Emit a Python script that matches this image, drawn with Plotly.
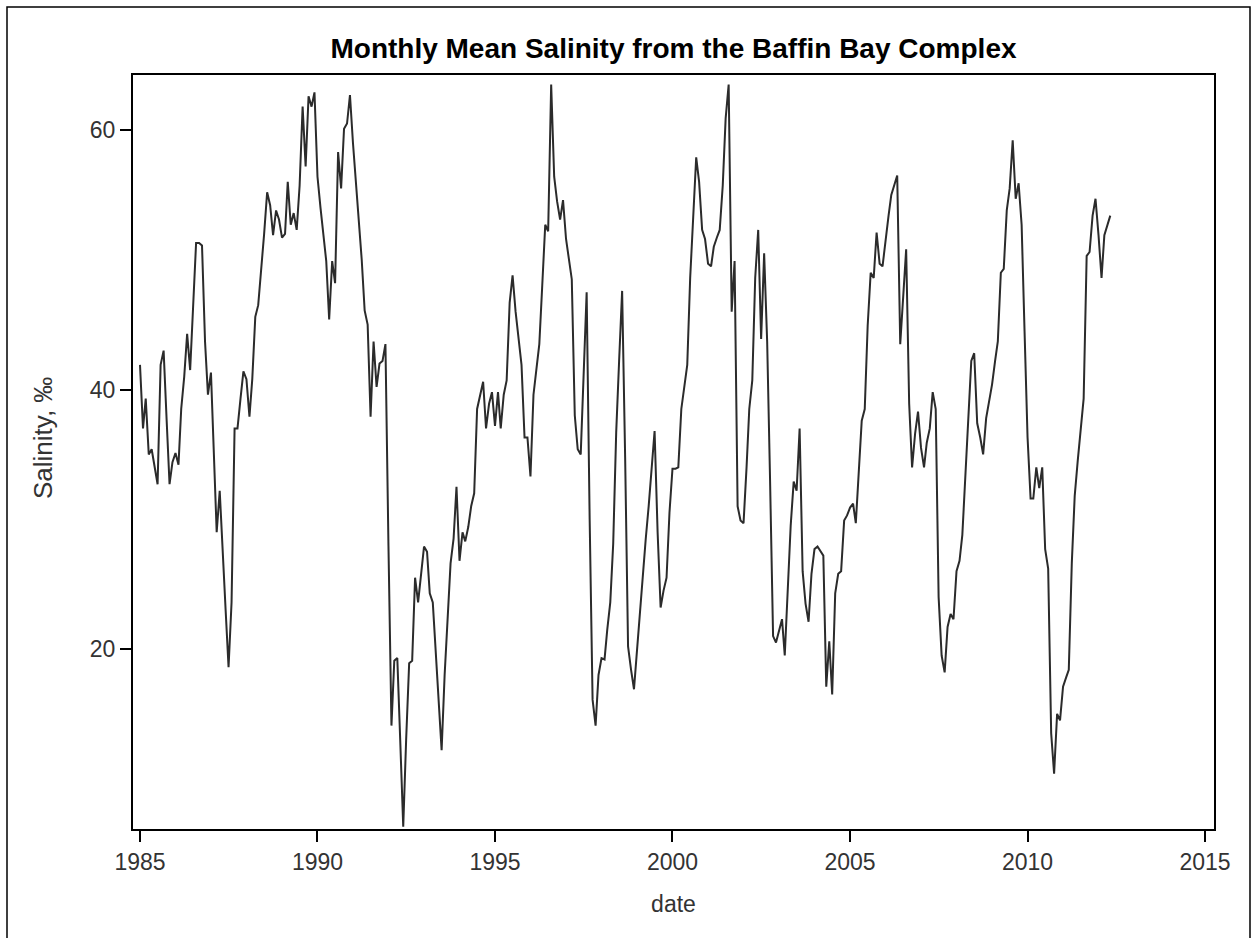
import pandas as pd
import plotly.graph_objects as go

# Monthly mean salinity (per mille), Baffin Bay complex, starting January 1985
start_month = "1985-01-01"

sal_1985_1989 = [
    41.9, 37.0, 39.3, 35.0, 35.4, 34.0, 32.7, 41.9, 43.0, 37.8, 32.7, 34.4,
    35.1, 34.2, 38.5, 41.0, 44.3, 41.5, 46.3, 51.3, 51.3, 51.1, 43.7, 39.6,
    41.3, 35.0, 29.0, 32.2, 27.3, 23.0, 18.6, 23.6, 37.0, 37.0, 39.3, 41.4,
    40.8, 37.9, 40.8, 45.6, 46.5, 49.0, 52.0, 55.2, 54.2, 51.9, 53.8, 53.1,
    51.7, 52.0, 56.0, 52.7, 53.6, 52.3, 55.7, 61.8, 57.2, 62.6, 61.8, 62.9,
]
sal_1990_1994 = [
    56.4, 54.0, 51.9, 49.9, 45.4, 49.9, 48.2, 58.3, 55.5, 60.1, 60.5, 62.7,
    59.0, 56.0, 53.0, 50.0, 46.1, 45.0, 37.9, 43.7, 40.2, 42.0, 42.2, 43.5,
    28.0, 14.1, 19.1, 19.3, 13.0, 6.3, 13.0, 18.9, 19.1, 25.5, 23.6, 25.5,
    27.9, 27.5, 24.3, 23.6, 19.9, 16.1, 12.2, 18.0, 22.0, 26.6, 28.5, 32.5,
    26.8, 29.0, 28.3, 29.4, 31.0, 32.0, 38.5, 39.6, 40.6, 37.0, 38.9, 39.8,
]
sal_1995_1999 = [
    37.2, 39.8, 37.0, 39.6, 40.7, 46.7, 48.8, 46.0, 43.7, 41.9, 36.3, 36.3,
    33.3, 39.6, 41.5, 43.5, 48.0, 52.7, 52.2, 63.5, 56.4, 54.5, 53.1, 54.6,
    51.6, 50.0, 48.5, 38.0, 35.4, 35.0, 41.0, 47.5, 30.0, 16.1, 14.1, 18.0,
    19.3, 19.2, 21.5, 23.6, 28.1, 36.7, 42.2, 47.6, 34.8, 20.2, 18.4, 16.9,
    19.9, 22.9, 26.2, 28.5, 31.0, 34.0, 36.8, 29.0, 23.2, 24.5, 25.5, 30.5,
]
sal_2000_2004 = [
    33.9, 33.9, 34.0, 38.5, 40.0, 41.9, 48.6, 53.8, 57.9, 56.0, 52.3, 51.6,
    49.7, 49.5, 51.0, 51.7, 52.3, 55.7, 60.9, 63.5, 46.0, 49.9, 31.0, 29.9,
    29.7, 34.0, 38.5, 40.7, 48.6, 52.3, 43.9, 50.5, 43.7, 33.0, 21.0, 20.5,
    21.4, 22.3, 19.5, 24.5, 29.5, 32.9, 32.2, 37.0, 26.0, 23.5, 22.1, 25.8,
    27.7, 27.9, 27.6, 27.2, 17.1, 20.6, 16.5, 24.3, 25.8, 26.0, 29.9, 30.3,
]
sal_2005_2009 = [
    30.9, 31.2, 29.7, 33.3, 37.6, 38.5, 44.9, 49.0, 48.6, 52.1, 49.7, 49.5,
    51.7, 53.4, 55.0, 55.8, 56.5, 43.5, 47.1, 50.8, 38.9, 34.0, 36.6, 38.3,
    35.5, 34.0, 35.9, 37.0, 39.8, 38.5, 24.0, 19.5, 18.2, 21.7, 22.7, 22.3,
    26.0, 26.8, 28.8, 33.3, 37.8, 42.2, 42.8, 37.4, 36.3, 35.0, 37.8, 39.1,
    40.4, 42.2, 43.7, 49.0, 49.3, 53.8, 55.5, 59.2, 54.7, 55.9, 52.7, 44.5,
]
sal_2010_2012 = [
    36.3, 31.6, 31.6, 34.0, 32.4, 34.0, 27.7, 26.2, 13.5, 10.4, 15.0, 14.5,
    17.1, 17.8, 18.4, 26.6, 31.8, 34.5, 36.8, 39.3, 50.3, 50.6, 53.4, 54.7,
    51.9, 48.6, 51.9, 52.7, 53.4,
]

year_ticks = [1985, 1990, 1995, 2000, 2005, 2010, 2015]
salinity_ticks = [20, 40, 60]

salinity = (sal_1985_1989 + sal_1990_1994 + sal_1995_1999
            + sal_2000_2004 + sal_2005_2009 + sal_2010_2012)
dates = pd.date_range(start_month, periods=len(salinity), freq="MS")

W, H = 1253, 938
L, R, T, B = 133, 1214, 75, 829  # plot frame in pixels

FONT = "Liberation Sans, Arial, sans-serif"


def px_to_paper_x(px):
    return (px - L) / (R - L)


def px_to_paper_y(py):
    return (B - py) / (B - T)


fig = go.Figure(
    go.Scatter(
        x=dates,
        y=salinity,
        mode="lines",
        line=dict(color="#2b2b2b", width=2),
        hoverinfo="x+y",
    )
)

axis_common = dict(
    showgrid=False,
    zeroline=False,
    showline=True,
    mirror=True,
    linecolor="#000000",
    linewidth=2,
    ticks="outside",
    ticklen=11,
    tickwidth=1.5,
    tickcolor="#000000",
    tickfont=dict(family=FONT, size=23, color="#333333"),
)

fig.update_layout(
    width=W,
    height=H,
    margin=dict(l=L, r=W - R, t=T, b=H - B, pad=0),
    paper_bgcolor="white",
    plot_bgcolor="white",
    showlegend=False,
    font=dict(family=FONT, color="#333333"),
    title=dict(
        text="<b>Monthly Mean Salinity from the Baffin Bay Complex</b>",
        font=dict(family=FONT, size=28, color="#000000"),
        x=0.5,
        xref="paper",
        xanchor="center",
        y=1 - 48 / H,
        yref="container",
        yanchor="middle",
    ),
    xaxis=dict(
        axis_common,
        type="date",
        range=["1984-10-21", "2015-04-03"],
        tickvals=[f"{y}-01-01" for y in year_ticks],
        ticktext=[str(y) for y in year_ticks],
        title=dict(text="date", font=dict(family=FONT, size=23, color="#333333"), standoff=22),
    ),
    yaxis=dict(
        axis_common,
        range=[6.13, 64.24],
        tickvals=salinity_ticks,
        ticktext=[str(v) for v in salinity_ticks],
    ),
)

# vertical axis label
fig.add_annotation(
    text="Salinity, ‰",
    xref="paper", yref="paper",
    x=px_to_paper_x(43), y=px_to_paper_y(438),
    xanchor="center", yanchor="middle",
    textangle=-90,
    showarrow=False,
    font=dict(family=FONT, size=26, color="#333333"),
)

# thin border around the whole graphic
fig.add_shape(
    type="rect",
    xref="paper", yref="paper",
    x0=px_to_paper_x(7), x1=px_to_paper_x(1250),
    y0=px_to_paper_y(940), y1=px_to_paper_y(7),
    line=dict(color="#000000", width=1.5),
    fillcolor="rgba(0,0,0,0)",
    layer="below",
)

fig.write_html("out.html")
